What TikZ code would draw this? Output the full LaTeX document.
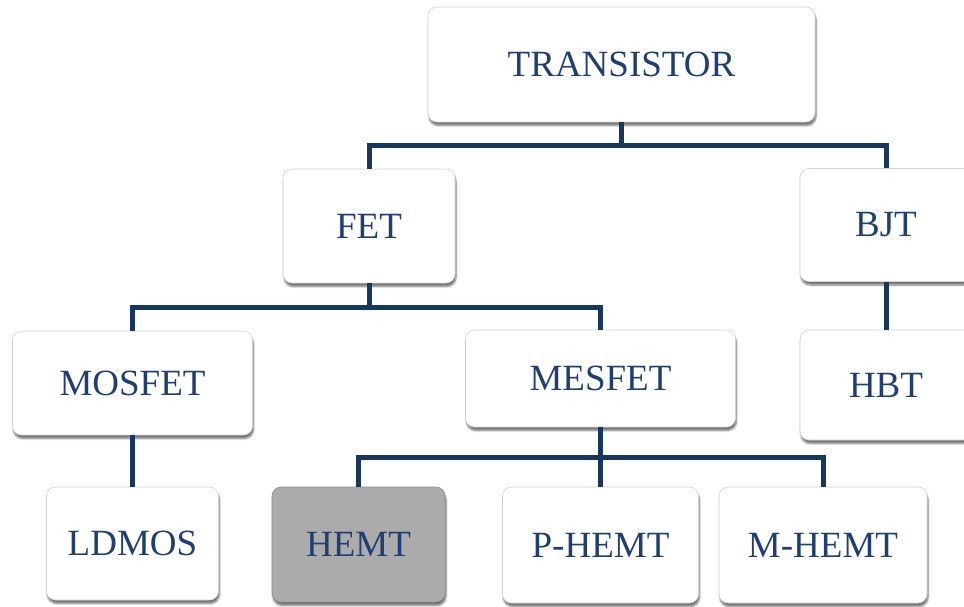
\documentclass[tikz,border=0pt]{standalone}
\usepackage{fontspec}
\setmainfont{Liberation Serif}
\usetikzlibrary{shadows.blur}
\definecolor{txtblue}{HTML}{1F3F74}
\definecolor{lineblue}{HTML}{17375E}
\definecolor{hemtgray}{HTML}{ABABAB}
\tikzset{
  box/.style={draw=black!18, line width=0.6pt, fill=white, rounded corners=9pt,
    inner sep=0pt, text=txtblue, font=\fontsize{37}{41}\selectfont,
    blur shadow={shadow blur steps=6, shadow xshift=1pt, shadow yshift=-3.5pt, shadow opacity=55}},
  graybox/.style={box, fill=hemtgray, draw=black!45},
  conn/.style={draw=lineblue, line width=5pt}
}
\begin{document}
\begin{tikzpicture}[x=1pt,y=-1pt]
\useasboundingbox (0,0) rectangle (964,606);
% nodes
\node[box, minimum width=387pt, minimum height=115pt] (tr) at (621.5,64.5) {TRANSISTOR};
\node[box, minimum width=172pt, minimum height=114pt] (fet) at (369,226) {FET};
\node[box, minimum width=172pt, minimum height=113pt] (bjt) at (886,225) {BJT};
\node[box, minimum width=240pt, minimum height=104pt] (mosfet) at (132.5,383) {MOSFET};
\node[box, minimum width=270pt, minimum height=97pt] (mesfet) at (600.5,378.5) {MESFET};
\node[box, minimum width=172pt, minimum height=110pt] (hbt) at (886,385) {HBT};
\node[box, minimum width=172pt, minimum height=113pt] (ldmos) at (132.5,543.5) {LDMOS};
\node[graybox, minimum width=173pt, minimum height=115pt] (hemt) at (358.5,544.5) {HEMT};
\node[box, minimum width=196pt, minimum height=116pt] (phemt) at (600.5,545) {P-HEMT};
\node[box, minimum width=208pt, minimum height=116pt] (mhemt) at (823,545) {M-HEMT};
% junctions
\coordinate (j1) at (621.5,145);
\coordinate (j2) at (369,307);
\coordinate (j3) at (600.5,457);
% connectors
\draw[conn] (tr.south) -- (j1);
\draw[conn] (fet.north) |- (j1) -| (bjt.north);
\draw[conn] (fet.south) -- (j2);
\draw[conn] (mosfet.north) |- (j2) -| (mesfet.north);
\draw[conn] (bjt.south) -- (hbt.north);
\draw[conn] (mosfet.south) -- (ldmos.north);
\draw[conn] (mesfet.south) -- (j3);
\draw[conn] (hemt.north) |- (j3) -| (mhemt.north);
\draw[conn] (j3) -- (phemt.north);
\end{tikzpicture}
\end{document}
